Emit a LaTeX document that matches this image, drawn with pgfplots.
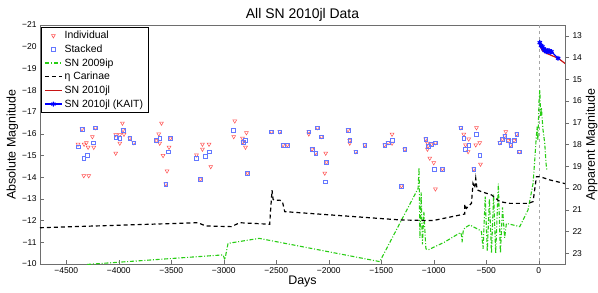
\documentclass[border=0pt]{standalone}
\usepackage{fontspec}
\setmainfont{Liberation Sans}
\usepackage{pgfplots}
\usepackage{pgfplotstable}
\pgfplotsset{compat=1.18}
\definecolor{sngreen}{RGB}{40,205,20}
\definecolor{snred}{RGB}{200,20,20}
\definecolor{indred}{RGB}{255,80,80}
\definecolor{stkblue}{RGB}{100,120,255}
\definecolor{axgray}{RGB}{110,110,110}

\pgfplotstableread{
x y
-4350 -16.21
-4222 -16.27
-4251 -15.86
-4388 -15.51
-4330 -15.51
-4308 -15.58
-4292 -15.37
-4238 -15.37
-4333 -14.06
-4286 -14.06
-3965 -16.48
-3959 -16.17
-3950 -15.97
-4029 -15.95
-3990 -15.95
-3990 -15.56
-4029 -15.10
-3895 -15.79
-3857 -15.58
-3593 -16.48
-3619 -15.98
-3610 -15.56
-3508 -15.79
-3641 -15.68
-3521 -15.37
-3578 -14.99
-3540 -14.28
-3552 -13.68
-3260 -15.02
-3203 -15.51
-3140 -15.51
-3203 -15.28
-3124 -14.48
-3222 -13.90
-2895 -16.58
-2905 -15.86
-2822 -15.79
-2784 -16.04
-2816 -15.60
-2793 -15.37
-2774 -14.18
-2546 -16.09
-2467 -16.09
-2435 -15.48
-2394 -15.48
-2190 -16.09
-2190 -15.98
-2108 -16.27
-2070 -15.86
-2159 -15.28
-2124 -15.12
-2029 -15.10
-2022 -14.68
-2038 -14.18
-1816 -16.17
-1800 -15.68
-1800 -15.56
-1743 -15.17
-1657 -15.48
-1467 -15.48
-1435 -15.58
-1397 -15.97
-1397 -15.56
-1276 -15.28
-1308 -13.59
-1076 -15.75
-1054 -15.43
-1022 -15.51
-984 -15.58
-1060 -15.56
-1060 -15.28
-1038 -14.87
-1000 -14.66
-917 -14.37
-984 -13.45
-743 -16.27
-593 -16.27
-714 -15.97
-667 -15.75
-698 -15.48
-600 -15.48
-562 -15.58
-673 -15.17
-555 -14.59
-619 -14.37
-371 -15.58
-346 -15.74
-324 -15.89
-314 -16.09
-292 -15.68
-267 -15.48
-235 -15.68
-210 -15.98
-184 -15.17
}\individual

\pgfplotstableread{
x y
-4350 -16.21
-4222 -16.27
-4245 -15.58
-4388 -15.40
-4302 -14.99
-4333 -14.87
-3959 -16.17
-4029 -15.83
-3990 -15.79
-3895 -15.79
-3857 -15.58
-3610 -15.79
-3508 -15.79
-3641 -15.68
-3530 -15.17
-3552 -13.68
-3260 -14.87
-3140 -15.17
-3175 -14.97
-3222 -13.90
-2911 -16.17
-2816 -15.60
-2793 -15.68
-2774 -14.18
-2546 -16.09
-2467 -16.09
-2435 -15.48
-2394 -15.48
-2190 -16.09
-2108 -16.27
-2070 -15.86
-2159 -15.28
-2124 -15.10
-2022 -14.68
-2032 -13.79
-1816 -16.17
-1800 -15.68
-1743 -15.17
-1657 -15.48
-1467 -15.48
-1435 -15.58
-1394 -15.68
-1276 -15.28
-1308 -13.59
-1076 -15.75
-1054 -15.43
-1022 -15.51
-984 -15.58
-997 -14.37
-917 -14.37
-743 -16.27
-714 -15.79
-593 -15.97
-698 -15.28
-667 -15.48
-562 -14.99
-619 -14.37
-371 -15.58
-346 -15.74
-324 -15.89
-292 -15.68
-267 -15.48
-235 -15.68
-210 -15.98
-184 -15.17
}\stacked

\pgfplotstableread{
x y
-4300 -9.98
-3006 -10.42
-2990 -10.19
-2959 -10.95
-2663 -11.18
-1514 -10.11
-1149 -13.48
-1140 -14.44
-1132 -11.2
-1120 -13.3
-1108 -10.9
-1094 -12.4
-1075 -10.7
-1054 -10.65
-900 -11.0
-745 -11.45
-736 -11.34
-730 -11.0
-720 -11.5
-705 -11.66
-657 -11.80
-560 -11.55
-546 -11.49
-530 -10.7
-510 -13.1
-490 -10.6
-470 -13.0
-450 -10.5
-430 -13.2
-410 -10.5
-385 -13.7
-365 -10.5
-345 -12.6
-325 -11.2
-308 -11.87
-181 -11.72
-102 -12.49
-54 -13.71
-38 -14.79
-29 -15.46
-16 -16.32
-8 -15.7
3 -17.55
10 -18.0
18 -16.8
25 -17.2
40 -16.2
57 -15.56
70 -14.6
78 -14.3
}\sntwoninety

\pgfplotstableread{
x y
-4750 -11.67
-3245 -11.90
-3197 -11.80
-3165 -11.75
-2927 -11.72
-2848 -11.90
-2562 -11.83
-2556 -12.33
-2540 -13.40
-2530 -12.97
-2514 -12.93
-2467 -12.94
-2441 -12.87
-2419 -12.41
-1324 -12.03
-1070 -12.00
-1006 -12.00
-705 -12.30
-705 -12.75
-689 -12.56
-641 -12.79
-626 -13.71
-610 -13.50
-600 -13.94
-587 -13.41
-546 -13.33
-450 -13.18
-371 -12.87
-276 -12.79
-102 -12.79
-54 -12.87
-22 -14.02
10 -14.02
105 -13.87
250 -13.70
}\etacar

\begin{document}
\begin{tikzpicture}
\useasboundingbox (-40bp,-29bp) rectangle (558bp,264bp);
\begin{axis}[
  at={(0,0)}, anchor=south west,
  scale only axis, width=525bp, height=239bp,
  xmin=-4750, xmax=250, ymin=-21, ymax=-10, y dir=reverse,
  xtick={-4500,-4000,-3500,-3000,-2500,-2000,-1500,-1000,-500,0},
  xticklabels={−4500,−4000,−3500,−3000,−2500,−2000,−1500,−1000,−500,0},
  ytick={-21,-20,-19,-18,-17,-16,-15,-14,-13,-12,-11,-10},
  yticklabels={−21,−20,−19,−18,−17,−16,−15,−14,−13,−12,−11,−10},
  xtick pos=bottom, ytick pos=left, tick align=inside,
  major tick length=4bp,
  axis line style={axgray}, tick style={axgray},
  ticklabel style={font=\fontsize{8.5}{10}\selectfont},
  xlabel={Days}, ylabel={Absolute Magnitude},
  label style={font=\fontsize{12.5}{14}\selectfont},
  xlabel style={yshift=4bp},
  ylabel style={yshift=-3bp},
  title={All SN 2010jl Data},
  title style={font=\fontsize{14}{16}\selectfont, yshift=-6bp},
  legend style={at={(0.0,1.0)}, anchor=north west, xshift=1bp, yshift=-2bp, draw=black, fill=white, font=\fontsize{10.5}{12}\selectfont, inner xsep=3bp, inner ysep=2bp, row sep=0.6bp},
  legend cell align=left,
]
\addplot[forget plot, gray!70, dashed, line width=0.5pt] coordinates {(0,-21) (0,-10)};
\addplot[forget plot, color=indred, only marks, mark=triangle, mark options={rotate=180, line width=0.5pt}, mark size=2.2pt] table[x=x,y=y] {\individual};
\addplot[forget plot, color=stkblue, only marks, mark=square, mark options={line width=0.5pt}, mark size=1.9pt] table[x=x,y=y] {\stacked};
\addplot[forget plot, color=sngreen, line width=1.1pt, dash pattern=on 4pt off 1.8pt on 1pt off 1.8pt] table[x=x,y=y] {\sntwoninety};
\addplot[forget plot, color=black, line width=1.2pt, dash pattern=on 4pt off 3pt] table[x=x,y=y] {\etacar};
\addplot[forget plot, color=snred, line width=1.2pt] coordinates {(3,-20.16) (20,-19.95) (40,-19.80) (73,-19.70) (130,-19.58) (184,-19.47) (248,-19.24) (260,-19.2)};
\addplot[forget plot, color=blue, line width=1.2pt, mark=asterisk, mark size=2.5pt, mark options={solid}] coordinates {(10,-20.19) (22,-20.05) (35,-20.0) (45,-19.9) (57,-19.82) (65,-19.86) (73,-19.77) (85,-19.8) (98,-19.82) (110,-19.75) (121,-19.77) (184,-19.47)};
\addlegendimage{color=indred, only marks, mark=triangle, mark options={rotate=180, line width=0.6pt, draw=indred}, mark size=2.2pt}
\addlegendentry{Individual}
\addlegendimage{color=stkblue, only marks, mark=square, mark options={line width=0.6pt, draw=stkblue}, mark size=1.9pt}
\addlegendentry{Stacked}
\addlegendimage{color=sngreen, draw=sngreen, line width=1.4pt, dash pattern=on 4pt off 2pt on 1.2pt off 2pt}
\addlegendentry{SN 2009ip}
\addlegendimage{color=black, line width=1.2pt, dash pattern=on 4pt off 3pt}
\addlegendentry{η Carinae}
\addlegendimage{color=snred, draw=snred, line width=1.2pt}
\addlegendentry{SN 2010jl}
\addlegendimage{color=blue, draw=blue, line width=1.2pt, mark=asterisk, mark size=2.5pt, mark options={solid}}
\addlegendentry{SN 2010jl (KAIT)}
\end{axis}
\begin{axis}[
  at={(0,0)}, anchor=south west,
  scale only axis, width=525bp, height=239bp,
  xmin=-4750, xmax=250, ymin=12.5, ymax=23.5, y dir=reverse,
  axis x line=none, axis y line*=right,
  ytick={13,14,15,16,17,18,19,20,21,22,23},
  tick align=outside, major tick length=4bp,
  axis line style={axgray}, tick style={axgray},
  ticklabel style={font=\fontsize{8.5}{10}\selectfont},
  /pgf/number format/assume math mode=true,
  ylabel={Apparent Magnitude},
  label style={font=\fontsize{12.5}{14}\selectfont},
  ylabel style={yshift=3bp},
]
\addplot[draw=none] coordinates {(0,15)};
\end{axis}
\end{tikzpicture}
\end{document}
